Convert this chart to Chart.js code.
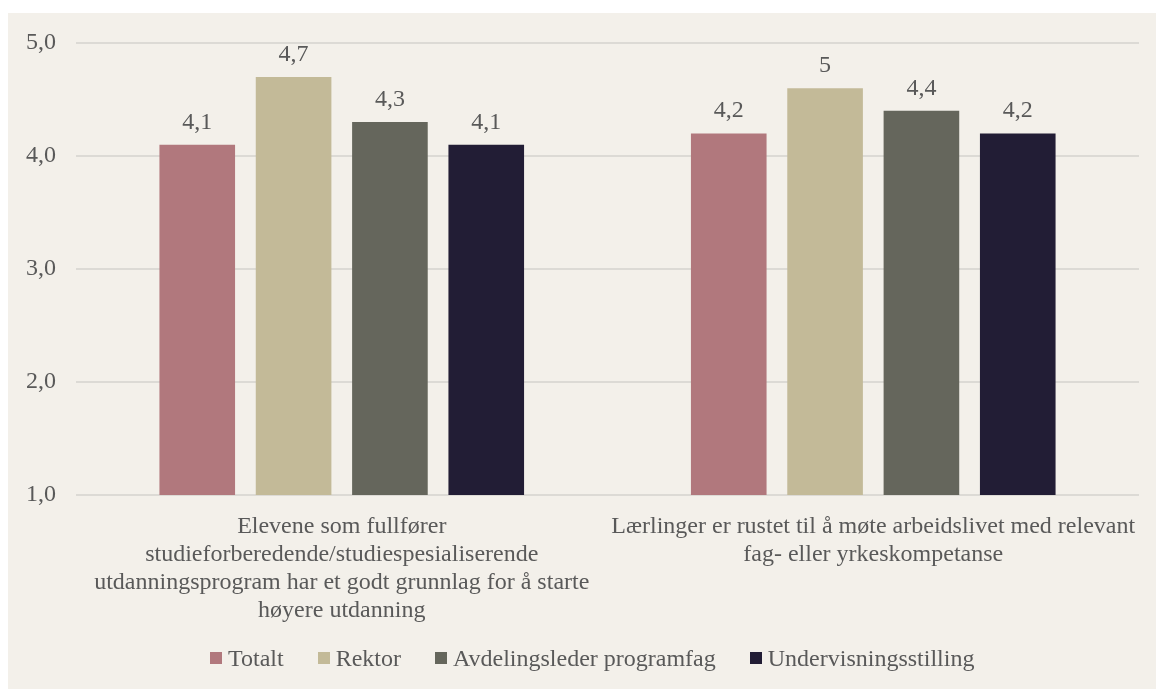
<!DOCTYPE html>
<html>
<head>
<meta charset="utf-8">
<script src="https://cdn.jsdelivr.net/npm/chart.js@4.4.1/dist/chart.umd.min.js"></script>
<style>
  html, body { margin: 0; padding: 0; background: #ffffff; }
  #wrap { position: absolute; left: 8px; top: 13px; width: 1148px; height: 676px; background: #f3f0ea; }
  canvas { display: block; }
  #legend { position: absolute; left: 202px; top: 630px; height: 30px; display: flex; align-items: center;
            font-family: "Liberation Serif", "Times New Roman", serif; font-size: 24px; color: #595959; white-space: nowrap; }
  .item { display: flex; align-items: center; margin-right: 34px; }
  .box { width: 12px; height: 12px; margin-right: 6px; }
</style>
</head>
<body>
<div id="wrap"><canvas id="c" width="1148" height="676"></canvas><div id="legend"></div></div>
<script>
// ---- data ----
const categories = [
  ["Elevene som fullfører", "studieforberedende/studiespesialiserende", "utdanningsprogram har et godt grunnlag for å starte", "høyere utdanning"],
  ["Lærlinger er rustet til å møte arbeidslivet med relevant", "fag- eller yrkeskompetanse"]
];
const seriesNames = ["Totalt", "Rektor", "Avdelingsleder programfag", "Undervisningsstilling"];
const totalt = [4.1, 4.2];
const rektor = [4.7, 4.6];
const avdelingsleder = [4.3, 4.4];
const undervisning = [4.1, 4.2];
// data labels as printed in the source chart
const totaltLabels = ["4,1", "4,2"];
const rektorLabels = ["4,7", "5"];
const avdelingslederLabels = ["4,3", "4,4"];
const undervisningLabels = ["4,1", "4,2"];
const yTicks = [1, 2, 3, 4, 5];

const colors = ["#b1787d", "#c3ba98", "#65665c", "#221d35"];
const FONT = '"Liberation Serif", "Times New Roman", serif';
const TEXT = "#595959";
const FS = 24;

const seriesValues = [totalt, rektor, avdelingsleder, undervisning];
const seriesLabels = [totaltLabels, rektorLabels, avdelingslederLabels, undervisningLabels];

// legend (HTML, built from the series names and colours)
const legendEl = document.getElementById("legend");
seriesNames.forEach((name, i) => {
  const item = document.createElement("div");
  item.className = "item";
  const box = document.createElement("span");
  box.className = "box";
  box.style.background = colors[i];
  const txt = document.createElement("span");
  txt.textContent = name;
  item.appendChild(box);
  item.appendChild(txt);
  legendEl.appendChild(item);
});

const valueLabelPlugin = {
  id: "valueLabels",
  afterDatasetsDraw(chart) {
    const ctx = chart.ctx;
    ctx.save();
    ctx.font = FS + "px " + FONT;
    ctx.fillStyle = TEXT;
    ctx.textAlign = "center";
    ctx.textBaseline = "alphabetic";
    chart.data.datasets.forEach((ds, i) => {
      const meta = chart.getDatasetMeta(i);
      meta.data.forEach((bar, j) => {
        ctx.fillText(seriesLabels[i][j], bar.x, bar.y - 16);
      });
    });
    ctx.restore();
  }
};

new Chart(document.getElementById("c"), {
  type: "bar",
  data: {
    labels: categories,
    datasets: seriesNames.map((name, i) => ({
      label: name,
      data: seriesValues[i],
      backgroundColor: colors[i],
      borderWidth: 0,
      categoryPercentage: 0.725,
      barPercentage: 0.785
    }))
  },
  options: {
    responsive: false,
    animation: false,
    devicePixelRatio: 1,
    layout: { padding: { left: 0, right: 17, top: 30, bottom: 54 } },
    plugins: {
      legend: { display: false },
      tooltip: { enabled: false }
    },
    scales: {
      x: {
        grid: { display: false },
        border: { display: false },
        ticks: {
          color: TEXT,
          font: { family: FONT, size: FS, lineHeight: 1.167 },
          maxRotation: 0,
          autoSkip: false,
          padding: 10
        },
        afterFit(scale) { scale.height = 140; }
      },
      y: {
        min: 1,
        max: 5,
        afterBuildTicks(scale) { scale.ticks = yTicks.map(v => ({ value: v })); },
        grid: { color: "#dcdad5", lineWidth: 2, drawTicks: true, tickLength: 20, tickColor: "rgba(0,0,0,0)" },
        border: { display: false },
        ticks: {
          color: TEXT,
          font: { family: FONT, size: FS },
          padding: 0,
          callback: (v) => Number(v).toFixed(1).replace(".", ",")
        },
        afterFit(scale) { scale.width = 68; }
      }
    }
  },
  plugins: [valueLabelPlugin]
});
</script>
</body>
</html>
